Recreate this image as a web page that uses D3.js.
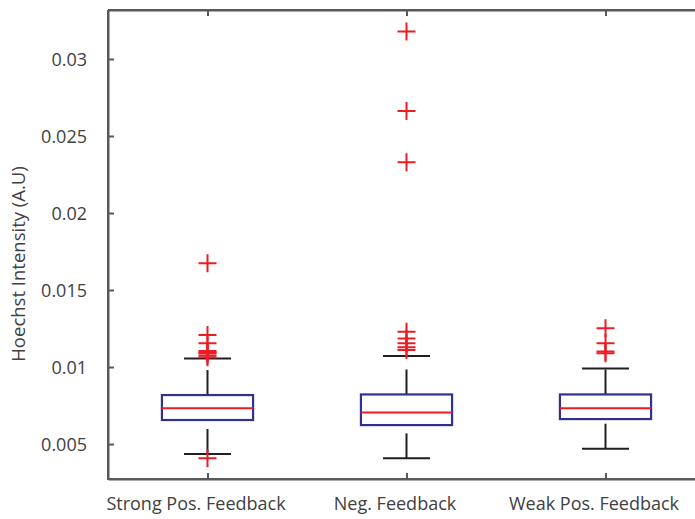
<!DOCTYPE html>
<html>
<head>
<meta charset="utf-8">
<script src="https://cdn.jsdelivr.net/npm/d3@7"></script>
<style>
  html, body { margin: 0; padding: 0; background: #fff; }
  svg { display: block; }
  text { font-family: "Open Sans", "Noto Sans", sans-serif; }
</style>
</head>
<body>
<svg id="chart" width="695" height="519"></svg>
<script>
// Groups along the x axis
const categories = ["Strong Pos. Feedback", "Neg. Feedback", "Weak Pos. Feedback"];

// Box statistics per group: lower whisker, Q1, median, Q3, upper whisker
const lowerWhisker = [0.00435, 0.00407, 0.00470];
const q1 = [0.00656, 0.00623, 0.00662];
const median = [0.00732, 0.00704, 0.00732];
const q3 = [0.00818, 0.00822, 0.00822];
const upperWhisker = [0.01056, 0.01071, 0.00991];

// Outlier values per group
const outliersStrong = [0.01673, 0.01208, 0.01154, 0.01104, 0.01095, 0.01089, 0.01075, 0.01063, 0.00407];
const outliersNeg = [0.03178, 0.02662, 0.02329, 0.01229, 0.01186, 0.01154, 0.01128, 0.01110];
const outliersWeak = [0.01251, 0.01154, 0.01100, 0.01089];
const outliers = [outliersStrong, outliersNeg, outliersWeak];

// Y tick values
const yTicks = [0.005, 0.01, 0.015, 0.02, 0.025, 0.03];
const yTickLabels = ["0.005", "0.01", "0.015", "0.02", "0.025", "0.03"];

const svg = d3.select("#chart");
const margin = { left: 108, top: 10, right: 705, bottom: 479 };

const x = d3.scaleLinear().domain([0.5, 3.5]).range([margin.left, margin.right]);
const y = d3.scaleLinear().domain([0.00273, 0.03318]).range([margin.bottom, margin.top]);

const axisColor = "#58595b";
const textColor = "#414042";
const boxColor = "#2e3192";
const redColor = "#ed1c24";
const whiskerColor = "#231f20";

const boxHalf = 0.229;   // half box width, in x units
const capHalf = 0.118;   // half whisker cap width

// Axes (left + bottom with labels, top + right as frame)
const yAxis = d3.axisLeft(y).tickValues(yTicks)
  .tickFormat((d, i) => yTickLabels[i]).tickSizeInner(-6).tickSizeOuter(0).tickPadding(21);
const gy = svg.append("g").attr("transform", `translate(${margin.left},0)`).call(yAxis);

const xAxis = d3.axisBottom(x).tickValues([1, 2, 3])
  .tickFormat((d, i) => categories[i]).tickSizeInner(-6).tickSizeOuter(0).tickPadding(18);
const gx = svg.append("g").attr("transform", `translate(0,${margin.bottom})`).call(xAxis);

const xTop = d3.axisTop(x).tickValues([1, 2, 3]).tickFormat("").tickSizeInner(-6).tickSizeOuter(0);
const gxt = svg.append("g").attr("transform", `translate(0,${margin.top})`).call(xTop);

const yRight = d3.axisRight(y).tickValues(yTicks).tickFormat("").tickSizeInner(-6).tickSizeOuter(0);
const gyr = svg.append("g").attr("transform", `translate(${margin.right},0)`).call(yRight);

[gy, gx, gxt, gyr].forEach(g => {
  g.select(".domain").attr("stroke", axisColor).attr("stroke-width", 2);
  g.selectAll(".tick line").attr("stroke", axisColor).attr("stroke-width", 2);
  g.selectAll(".tick text").attr("fill", textColor).attr("font-size", 18);
});
gy.selectAll(".tick text").attr("dy", "0.38em");
// category labels sit slightly left of their ticks
gx.selectAll(".tick text").attr("dx", -12);

// square the frame corners
svg.append("path")
  .attr("d", `M${margin.left},${margin.top}V${margin.bottom}H${margin.right}`)
  .attr("fill", "none").attr("stroke", axisColor).attr("stroke-width", 2)
  .attr("stroke-linejoin", "miter");
svg.append("path")
  .attr("d", `M${margin.left},${margin.top}H${margin.right}`)
  .attr("fill", "none").attr("stroke", axisColor).attr("stroke-width", 2);

// Y axis title
svg.append("text")
  .attr("transform", `translate(25,264) rotate(-90)`)
  .attr("text-anchor", "middle")
  .attr("fill", textColor)
  .attr("font-size", 18.5)
  .text("Hoechst Intensity (A.U)");

// Boxes
const groups = svg.append("g").selectAll("g")
  .data(categories.map((c, i) => ({
    i, pos: i + 1,
    lw: lowerWhisker[i], q1: q1[i], med: median[i], q3: q3[i], uw: upperWhisker[i],
    out: outliers[i]
  })))
  .join("g");

// Whiskers: dashed lines drawn from the lower value upward
groups.append("line")
  .attr("x1", d => x(d.pos)).attr("x2", d => x(d.pos))
  .attr("y1", d => y(d.q3)).attr("y2", d => y(d.uw))
  .attr("stroke", whiskerColor).attr("stroke-width", 2).attr("stroke-dasharray", "25,16");
groups.append("line")
  .attr("x1", d => x(d.pos)).attr("x2", d => x(d.pos))
  .attr("y1", d => y(d.lw)).attr("y2", d => y(d.q1))
  .attr("stroke", whiskerColor).attr("stroke-width", 2).attr("stroke-dasharray", "25,16");

// Whisker caps
["uw", "lw"].forEach(k => {
  groups.append("line")
    .attr("x1", d => x(d.pos - capHalf)).attr("x2", d => x(d.pos + capHalf))
    .attr("y1", d => y(d[k])).attr("y2", d => y(d[k]))
    .attr("stroke", whiskerColor).attr("stroke-width", 2);
});

// Box
groups.append("rect")
  .attr("x", d => x(d.pos - boxHalf))
  .attr("width", d => x(d.pos + boxHalf) - x(d.pos - boxHalf))
  .attr("y", d => y(d.q3))
  .attr("height", d => y(d.q1) - y(d.q3))
  .attr("fill", "none").attr("stroke", boxColor).attr("stroke-width", 2.2);

// Median
groups.append("line")
  .attr("x1", d => x(d.pos - boxHalf)).attr("x2", d => x(d.pos + boxHalf))
  .attr("y1", d => y(d.med)).attr("y2", d => y(d.med))
  .attr("stroke", redColor).attr("stroke-width", 2);

// Outliers as "+" markers
const arm = 9;
groups.each(function (d) {
  d3.select(this).selectAll("path.out")
    .data(d.out)
    .join("path")
    .attr("class", "out")
    .attr("d", v => `M${x(d.pos) - arm},${y(v)}H${x(d.pos) + arm}M${x(d.pos)},${y(v) - arm}V${y(v) + arm}`)
    .attr("stroke", redColor).attr("stroke-width", 2).attr("fill", "none");
});
</script>
</body>
</html>
